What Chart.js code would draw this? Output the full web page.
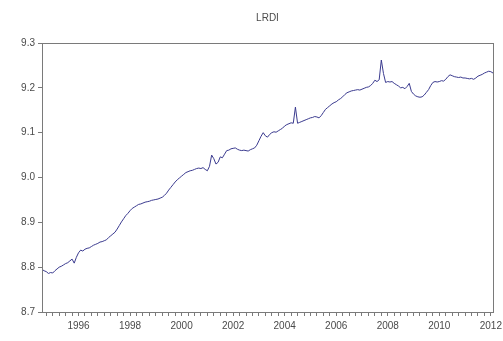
<!DOCTYPE html>
<html>
<head>
<meta charset="utf-8">
<title>LRDI</title>
<script src="https://cdn.jsdelivr.net/npm/chart.js@4/dist/chart.umd.min.js"></script>
<style>
  html, body { margin: 0; padding: 0; background: #ffffff; }
  #wrap { width: 503px; height: 341px; }
</style>
</head>
<body>
<div id="wrap"><canvas id="c" width="503" height="341"></canvas></div>
<script>
// Monthly series, 1994M08 .. 2012M02
const startYear = 1994;
const startMonth = 8;

const lrdi1994 = [8.795, 8.792, 8.790, 8.786, 8.788];
const lrdi1995 = [8.787, 8.792, 8.796, 8.800, 8.802, 8.805, 8.808, 8.810, 8.814, 8.818, 8.809, 8.822];
const lrdi1996 = [8.832, 8.838, 8.836, 8.840, 8.842, 8.843, 8.846, 8.849, 8.851, 8.853, 8.856, 8.857];
const lrdi1997 = [8.859, 8.861, 8.866, 8.870, 8.874, 8.878, 8.885, 8.893, 8.901, 8.908, 8.915, 8.920];
const lrdi1998 = [8.926, 8.931, 8.934, 8.937, 8.940, 8.941, 8.943, 8.945, 8.946, 8.947, 8.949, 8.950];
const lrdi1999 = [8.951, 8.952, 8.954, 8.956, 8.960, 8.965, 8.972, 8.978, 8.984, 8.990, 8.995, 8.999];
const lrdi2000 = [9.003, 9.007, 9.011, 9.013, 9.015, 9.016, 9.018, 9.020, 9.021, 9.020, 9.022, 9.018];
const lrdi2001 = [9.015, 9.025, 9.050, 9.042, 9.030, 9.034, 9.046, 9.044, 9.052, 9.060, 9.061, 9.064];
const lrdi2002 = [9.065, 9.066, 9.063, 9.061, 9.060, 9.061, 9.060, 9.059, 9.062, 9.064, 9.066, 9.072];
const lrdi2003 = [9.082, 9.092, 9.100, 9.093, 9.090, 9.096, 9.100, 9.102, 9.101, 9.104, 9.107, 9.110];
const lrdi2004 = [9.115, 9.118, 9.120, 9.122, 9.121, 9.157, 9.121, 9.123, 9.125, 9.127, 9.129, 9.131];
const lrdi2005 = [9.133, 9.134, 9.136, 9.135, 9.133, 9.138, 9.145, 9.152, 9.156, 9.160, 9.164, 9.167];
const lrdi2006 = [9.169, 9.173, 9.176, 9.180, 9.185, 9.189, 9.191, 9.193, 9.194, 9.195, 9.196, 9.195];
const lrdi2007 = [9.197, 9.199, 9.201, 9.202, 9.205, 9.210, 9.217, 9.214, 9.218, 9.262, 9.232, 9.212];
const lrdi2008 = [9.214, 9.213, 9.214, 9.210, 9.207, 9.204, 9.200, 9.201, 9.198, 9.203, 9.210, 9.192];
const lrdi2009 = [9.186, 9.182, 9.180, 9.179, 9.180, 9.184, 9.190, 9.196, 9.205, 9.212, 9.214, 9.213];
const lrdi2010 = [9.214, 9.216, 9.215, 9.219, 9.225, 9.229, 9.227, 9.225, 9.224, 9.223, 9.224, 9.222];
const lrdi2011 = [9.222, 9.221, 9.220, 9.221, 9.219, 9.222, 9.226, 9.228, 9.230, 9.233, 9.235, 9.237];
const lrdi2012 = [9.236, 9.233];

const yearLabels = ['1996', '1998', '2000', '2002', '2004', '2006', '2008', '2010', '2012'];
const yTicks = [8.7, 8.8, 8.9, 9.0, 9.1, 9.2, 9.3];

const values = [].concat(lrdi1994, lrdi1995, lrdi1996, lrdi1997, lrdi1998, lrdi1999,
  lrdi2000, lrdi2001, lrdi2002, lrdi2003, lrdi2004, lrdi2005, lrdi2006, lrdi2007,
  lrdi2008, lrdi2009, lrdi2010, lrdi2011, lrdi2012);

// period labels "YYYYMmm"
const periods = values.map((_, i) => {
  const m0 = startMonth - 1 + i;
  const y = startYear + Math.floor(m0 / 12);
  const m = (m0 % 12) + 1;
  return { year: y, month: m, text: y + 'M' + String(m).padStart(2, '0') };
});

const textColor = '#4a4a4a';
const axisColor = '#7a7a7a';

// box around the plot and centred title over it
const framePlugin = {
  id: 'frame',
  afterDraw(chart) {
    const { ctx, chartArea: a } = chart;
    ctx.save();
    ctx.strokeStyle = axisColor;
    ctx.lineWidth = 1;
    ctx.strokeRect(Math.round(a.left) + 0.5, Math.round(a.top) + 0.5,
      Math.round(a.right - a.left), Math.round(a.bottom - a.top));
    ctx.fillStyle = textColor;
    ctx.font = '10px "Liberation Sans", Arial, sans-serif';
    ctx.textAlign = 'center';
    ctx.textBaseline = 'middle';
    ctx.fillText('LRDI', (a.left + a.right) / 2, 18);
    ctx.restore();
  }
};

new Chart(document.getElementById('c'), {
  type: 'line',
  data: {
    labels: periods.map(p => p.text),
    datasets: [{
      label: 'LRDI',
      data: values,
      borderColor: '#3b3b8f',
      borderWidth: 1,
      pointRadius: 0,
      tension: 0,
      fill: false
    }]
  },
  options: {
    responsive: false,
    animation: false,
    layout: { padding: { top: 43, right: 10, left: 0, bottom: 0 } },
    plugins: {
      legend: { display: false },
      title: { display: false },
      tooltip: { enabled: false }
    },
    scales: {
      x: {
        type: 'category',
        offset: false,
        afterFit(scale) { scale.height = 29; },
        border: { display: true, color: axisColor, width: 1 },
        grid: {
          display: true,
          drawOnChartArea: false,
          drawTicks: true,
          tickLength: 4,
          tickColor: ctx => (periods[ctx.index] && (periods[ctx.index].month - 1) % 3 === 0) ? axisColor : 'rgba(0,0,0,0)'
        },
        ticks: {
          autoSkip: false,
          maxRotation: 0,
          minRotation: 0,
          padding: 4,
          color: textColor,
          font: { family: '"Liberation Sans", Arial, sans-serif', size: 10 },
          callback(value, index) {
            const p = periods[index];
            if (p && p.month === 1 && yearLabels.includes(String(p.year))) return String(p.year);
            return '';
          }
        }
      },
      y: {
        min: yTicks[0],
        max: yTicks[yTicks.length - 1],
        afterFit(scale) { scale.width = 42; },
        afterBuildTicks(scale) { scale.ticks = yTicks.map(v => ({ value: v })); },
        border: { display: true, color: axisColor, width: 1 },
        grid: {
          display: true,
          drawOnChartArea: false,
          drawTicks: true,
          tickLength: 4,
          tickColor: axisColor
        },
        ticks: {
          padding: 3,
          color: textColor,
          font: { family: '"Liberation Sans", Arial, sans-serif', size: 10 },
          callback: v => Number(v).toFixed(1)
        }
      }
    }
  },
  plugins: [framePlugin]
});
</script>
</body>
</html>
